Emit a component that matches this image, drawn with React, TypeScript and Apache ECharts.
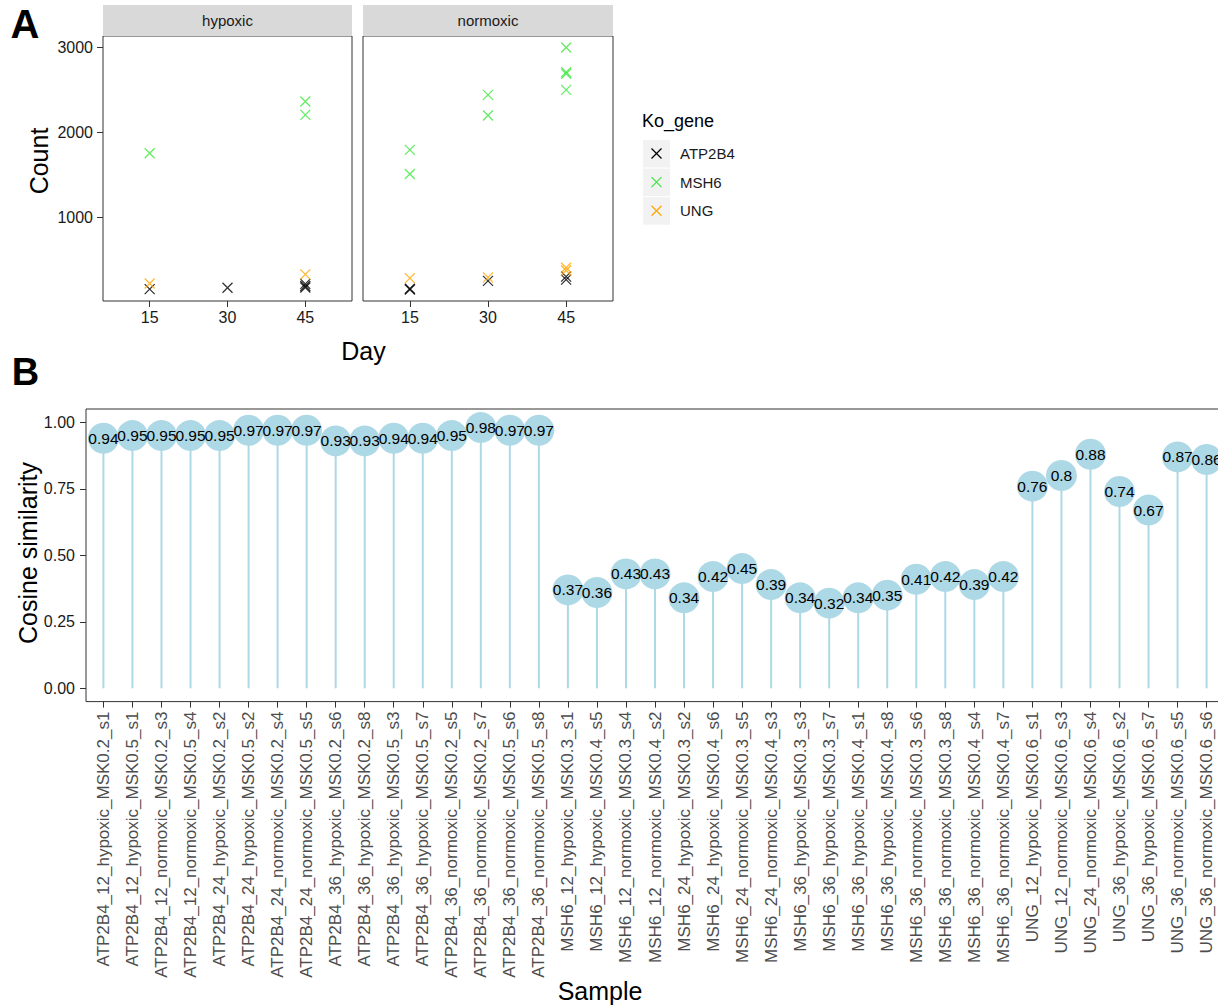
import React, { useEffect, useRef } from "react";
import * as echarts from "echarts";

const FONT = "'Liberation Sans', Arial, Helvetica, sans-serif";

// ---------- Panel A data ----------
const days = ["15", "30", "45"];
const genes = ["ATP2B4", "MSH6", "UNG"];
const geneColors = ["#000000", "#3FE63F", "#FFA500"];
const conditions = ["hypoxic", "normoxic"];

// [day, count]
const hypoxicATP2B4 = [[15, 153], [30, 169], [45, 215], [45, 190], [45, 172]];
const hypoxicMSH6 = [[15, 1755], [45, 2365], [45, 2208]];
const hypoxicUNG = [[15, 220], [45, 327]];
const normoxicATP2B4 = [[15, 158], [15, 148], [30, 250], [45, 300], [45, 265]];
const normoxicMSH6 = [[15, 1795], [15, 1511], [30, 2444], [30, 2200], [45, 3002], [45, 2712], [45, 2692], [45, 2503]];
const normoxicUNG = [[15, 283], [30, 292], [45, 405], [45, 372]];

const countTicks = [1000, 2000, 3000];

// ---------- Panel B data ----------
const samples = [
  "ATP2B4_12_hypoxic_MSK0.2_s1",
  "ATP2B4_12_hypoxic_MSK0.5_s1",
  "ATP2B4_12_normoxic_MSK0.2_s3",
  "ATP2B4_12_normoxic_MSK0.5_s4",
  "ATP2B4_24_hypoxic_MSK0.2_s2",
  "ATP2B4_24_hypoxic_MSK0.5_s2",
  "ATP2B4_24_normoxic_MSK0.2_s4",
  "ATP2B4_24_normoxic_MSK0.5_s5",
  "ATP2B4_36_hypoxic_MSK0.2_s6",
  "ATP2B4_36_hypoxic_MSK0.2_s8",
  "ATP2B4_36_hypoxic_MSK0.5_s3",
  "ATP2B4_36_hypoxic_MSK0.5_s7",
  "ATP2B4_36_normoxic_MSK0.2_s5",
  "ATP2B4_36_normoxic_MSK0.2_s7",
  "ATP2B4_36_normoxic_MSK0.5_s6",
  "ATP2B4_36_normoxic_MSK0.5_s8",
  "MSH6_12_hypoxic_MSK0.3_s1",
  "MSH6_12_hypoxic_MSK0.4_s5",
  "MSH6_12_normoxic_MSK0.3_s4",
  "MSH6_12_normoxic_MSK0.4_s2",
  "MSH6_24_hypoxic_MSK0.3_s2",
  "MSH6_24_hypoxic_MSK0.4_s6",
  "MSH6_24_normoxic_MSK0.3_s5",
  "MSH6_24_normoxic_MSK0.4_s3",
  "MSH6_36_hypoxic_MSK0.3_s3",
  "MSH6_36_hypoxic_MSK0.3_s7",
  "MSH6_36_hypoxic_MSK0.4_s1",
  "MSH6_36_hypoxic_MSK0.4_s8",
  "MSH6_36_normoxic_MSK0.3_s6",
  "MSH6_36_normoxic_MSK0.3_s8",
  "MSH6_36_normoxic_MSK0.4_s4",
  "MSH6_36_normoxic_MSK0.4_s7",
  "UNG_12_hypoxic_MSK0.6_s1",
  "UNG_12_normoxic_MSK0.6_s3",
  "UNG_24_normoxic_MSK0.6_s4",
  "UNG_36_hypoxic_MSK0.6_s2",
  "UNG_36_hypoxic_MSK0.6_s7",
  "UNG_36_normoxic_MSK0.6_s5",
  "UNG_36_normoxic_MSK0.6_s6",
];
const similarity = [
  0.94, 0.95, 0.95, 0.95, 0.95, 0.97, 0.97, 0.97, 0.93, 0.93, 0.94, 0.94, 0.95, 0.98, 0.97, 0.97,
  0.37, 0.36, 0.43, 0.43, 0.34, 0.42, 0.45, 0.39, 0.34, 0.32, 0.34, 0.35, 0.41, 0.42, 0.39, 0.42,
  0.76, 0.8, 0.88, 0.74, 0.67, 0.87, 0.86,
];
const similarityTicks = [0, 0.25, 0.5, 0.75, 1];

const CROSS = "path://M0,0L10,10M10,0L0,10";

function App() {
  const ref = useRef<HTMLDivElement>(null);

  useEffect(() => {
    if (!ref.current) return;
    const chart = echarts.init(ref.current, null, { renderer: "svg" });

    const panelData = [
      [hypoxicATP2B4, hypoxicMSH6, hypoxicUNG],
      [normoxicATP2B4, normoxicMSH6, normoxicUNG],
    ];

    const dayPos = [1, 2, 3];
    const samplePos = samples.map((_, i) => i + 1);

    const scatterA: any[] = [];
    panelData.forEach((geneSets, g) => {
      geneSets.forEach((pts, k) => {
        scatterA.push({
          type: "scatter",
          name: genes[k],
          xAxisIndex: g,
          yAxisIndex: g,
          symbol: CROSS,
          symbolSize: 10,
          itemStyle: { color: "transparent", borderColor: geneColors[k], borderWidth: 1.3 },
          data: pts.map((p) => [days.indexOf(String(p[0])) + 1, p[1]]),
          silent: true,
        });
      });
    });

    const axisTxt = { fontFamily: FONT, fontSize: 16, color: "#1a1a1a" };

    const xAxesA = [0, 1].map((g) => ({
      gridIndex: g,
      type: "value",
      min: 0.4,
      max: 3.6,
      axisLine: { show: false, onZero: false },
      splitLine: { show: false },
      axisTick: { show: true, length: 6, customValues: dayPos, lineStyle: { color: "#333", width: 1 } },
      axisLabel: {
        customValues: dayPos,
        formatter: (v: number) => days[Math.round(v) - 1],
        margin: 8,
        ...axisTxt,
      },
    }));

    const yAxesA = [0, 1].map((g) => ({
      gridIndex: g,
      type: "value",
      min: 13,
      max: 3138,
      axisLine: { show: false, onZero: false },
      splitLine: { show: false },
      axisTick: { show: g === 0, length: 6, customValues: countTicks, lineStyle: { color: "#333", width: 1 } },
      axisLabel: {
        show: g === 0,
        customValues: countTicks,
        formatter: (v: number) => String(v),
        margin: 10,
        ...axisTxt,
      },
    }));

    const legendGraphics: any[] = [];
    genes.forEach((gname, k) => {
      const top = 140 + k * 28.6;
      legendGraphics.push({
        type: "rect",
        shape: { x: 643, y: top, width: 27, height: 27.5 },
        style: { fill: "#F2F2F2" },
      });
      const cx = 656.5;
      const cy = top + 13.5;
      legendGraphics.push({
        type: "line",
        shape: { x1: cx - 5, y1: cy - 5, x2: cx + 5, y2: cy + 5 },
        style: { stroke: geneColors[k], lineWidth: 1.3 },
      });
      legendGraphics.push({
        type: "line",
        shape: { x1: cx + 5, y1: cy - 5, x2: cx - 5, y2: cy + 5 },
        style: { stroke: geneColors[k], lineWidth: 1.3 },
      });
      legendGraphics.push({
        type: "text",
        x: 680,
        y: cy,
        style: { text: gname, font: `15px ${FONT}`, fill: "#1a1a1a", textVerticalAlign: "middle", textAlign: "left" },
      });
    });

    const stripGraphics: any[] = [];
    const stripX = [[103, 249], [363, 250]];
    conditions.forEach((c, g) => {
      stripGraphics.push({
        type: "rect",
        shape: { x: stripX[g][0], y: 5, width: stripX[g][1], height: 31 },
        style: { fill: "#D9D9D9" },
      });
      stripGraphics.push({
        type: "text",
        x: stripX[g][0] + stripX[g][1] / 2,
        y: 20.5,
        style: { text: c, font: `15px ${FONT}`, fill: "#1a1a1a", textAlign: "center", textVerticalAlign: "middle" },
      });
    });

    const titleText = (text: string, x: number, y: number, size: number, rot = 0, bold = false, align = "center") => ({
      type: "text",
      x,
      y,
      rotation: rot,
      style: {
        text,
        font: `${bold ? "bold " : ""}${size}px ${FONT}`,
        fill: "#000",
        textAlign: align,
        textVerticalAlign: "middle",
      },
    });

    const gridBase = { show: true, borderColor: "#333", borderWidth: 1, backgroundColor: "#fff", outerBoundsMode: "none", containLabel: false };

    const option: any = {
      animation: false,
      backgroundColor: "#fff",
      grid: [
        { ...gridBase, left: 103, top: 36, width: 249, height: 265 },
        { ...gridBase, left: 363, top: 36, width: 250, height: 265 },
        { ...gridBase, left: 86, top: 409, width: 1138, height: 292.6 },
      ],
      xAxis: [
        ...xAxesA,
        {
          gridIndex: 2,
          type: "value",
          min: 0.4,
          max: 39.6,
          axisLine: { show: false, onZero: false },
          splitLine: { show: false },
          axisTick: { show: true, length: 6, customValues: samplePos, lineStyle: { color: "#333", width: 1 } },
          axisLabel: {
            customValues: samplePos,
            formatter: (v: number) => samples[Math.round(v) - 1],
            rotate: 90,
            margin: 10,
            fontFamily: FONT,
            fontSize: 17,
            color: "#4D4D4D",
          },
        },
      ],
      yAxis: [
        ...yAxesA,
        {
          gridIndex: 2,
          type: "value",
          min: -0.05,
          max: 1.05,
          axisLine: { show: false, onZero: false },
          splitLine: { show: false },
          axisTick: { show: true, length: 6, customValues: similarityTicks, lineStyle: { color: "#333", width: 1 } },
          axisLabel: {
            customValues: similarityTicks,
            formatter: (v: number) => v.toFixed(2),
            margin: 11,
            ...axisTxt,
          },
        },
      ],
      series: [
        ...scatterA,
        {
          type: "bar",
          xAxisIndex: 2,
          yAxisIndex: 2,
          barWidth: 2,
          itemStyle: { color: "#ADD8E6" },
          data: similarity.map((v, i) => [i + 1, v]),
          silent: true,
          z: 1,
        },
        {
          type: "scatter",
          xAxisIndex: 2,
          yAxisIndex: 2,
          symbol: "circle",
          symbolSize: 31,
          itemStyle: { color: "#ADD8E6", opacity: 1 },
          label: {
            show: true,
            position: "inside",
            formatter: (p: any) => String(p.value[1]),
            fontFamily: FONT,
            fontSize: 15.5,
            color: "#000",
          },
          data: similarity.map((v, i) => [i + 1, v]),
          silent: true,
          z: 2,
        },
      ],
      graphic: [
        ...stripGraphics,
        ...legendGraphics,
        titleText("Ko_gene", 642, 121, 18, 0, false, "left"),
        titleText("A", 25, 24, 40, 0, true),
        titleText("B", 25.5, 371.5, 38, 0, true),
        titleText("Count", 38.5, 161, 25, Math.PI / 2),
        titleText("Day", 363.5, 351, 25),
        titleText("Cosine similarity", 28, 553, 25, Math.PI / 2),
        titleText("Sample", 600, 991, 25),
      ],
    };

    chart.setOption(option);
    return () => chart.dispose();
  }, []);

  return <div ref={ref} style={{ position: "absolute", left: 0, top: 0, width: 1218, height: 1006 }} />;
}

export default App;
